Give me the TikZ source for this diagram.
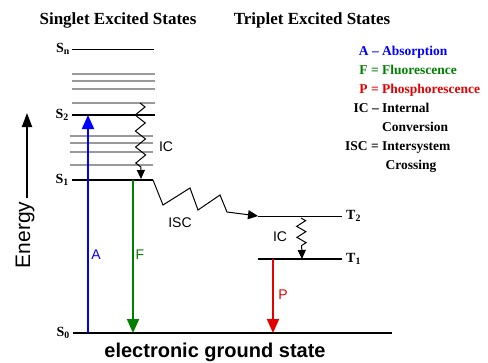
\documentclass[tikz,border=0pt]{standalone}
\usepackage{fontspec}
\setmainfont{Liberation Serif}
\setsansfont{Liberation Sans}
\usepackage{tikz}
\usetikzlibrary{arrows.meta,positioning,decorations.pathmorphing}
\definecolor{absblue}{RGB}{0,0,255}
\definecolor{flgreen}{RGB}{0,128,0}
\definecolor{phred}{RGB}{230,0,0}

\begin{document}
\begin{tikzpicture}[
    x=1pt, y=-1pt,
    level/.style={line width=2pt, black},
    thinlevel/.style={line width=1pt, black},
    vib/.style={line width=2pt, black!40},
    title/.style={font=\rmfamily\bfseries\fontsize{17}{20}\selectfont, inner sep=0pt},
    state/.style={font=\rmfamily\bfseries\fontsize{14}{16}\selectfont, inner sep=0pt},
    tag/.style={font=\sffamily\fontsize{14}{16}\selectfont, inner sep=0pt},
    radiative/.style={-{Triangle[length=14pt,width=12pt]}, line width=2pt},
    nonrad/.style={-{Triangle[length=9pt,width=8pt]}, line width=1pt, decorate,
        decoration={zigzag, amplitude=5pt, segment length=16pt, post length=12pt}}
]
\useasboundingbox (0,0) rectangle (488,362);

% Titles
\node[title] (singlet) at (118,20) {Singlet Excited States};
\node[title] (triplet) at (312,20) {Triplet Excited States};

% Singlet levels
\draw[thinlevel] (72,49) coordinate (snw) -- (154,49) coordinate (sne);
\foreach \yy in {74,81,89,103} \draw[vib] (72,\yy) -- (155,\yy);
\draw[level] (72,115) coordinate (s2w) -- (155,115) coordinate (s2e);
\foreach \yy in {136,143,152,165} \draw[vib] (70,\yy) -- (153,\yy);
\draw[level] (72,180) coordinate (s1w) -- (153,180) coordinate (s1e);
\draw[level] (73,333) coordinate (s0w) -- (392,333) coordinate (s0e);

% Triplet levels
\draw[thinlevel] (258,216) coordinate (t2w) -- (342,216) coordinate (t2e);
\draw[level] (258,259) coordinate (t1w) -- (342,259) coordinate (t1e);

% State labels
\node[state, left=2pt of snw] (snlab) {S\textsubscript{n}};
\node[state, left=3pt of s2w] (s2lab) {S\textsubscript{2}};
\node[state, left=3pt of s1w] (s1lab) {S\textsubscript{1}};
\node[state, left=3pt of s0w] (s0lab) {S\textsubscript{0}};
\node[state, right=4pt of t2e] (t2lab) {T\textsubscript{2}};
\node[state, right=4pt of t1e] (t1lab) {T\textsubscript{1}};

% Transitions
\coordinate (absfoot) at (88,333);
\coordinate (abstop) at (88,115);
\coordinate (flstart) at (133,180);
\coordinate (flend) at (133,333);
\coordinate (phstart) at (273,259);
\coordinate (phend) at (273,333);
\coordinate (icstart) at (140,103);
\coordinate (icend) at (141,179);
\coordinate (tcstart) at (301,218);
\coordinate (tcend) at (302,259);

\draw[radiative, absblue] (absfoot) -- (abstop);
\draw[radiative, flgreen] (flstart) -- (flend);
\draw[radiative, phred] (phstart) -- (phend);
\draw[nonrad] (icstart) -- (icend);
\draw[nonrad, decoration={segment length=11pt, amplitude=4.5pt, post length=10pt}] (tcstart) -- (tcend);
\draw[-{Triangle[length=10pt,width=9pt]}, line width=1pt]
    (s1e) -- (163,205) -- (190,188) -- (198,210) -- (220,195) -- (227,212) -- (t2w);

\node[tag, text=absblue] (alab) at (96,255) {A};
\node[tag, text=flgreen] (flab) at (140,255) {F};
\node[tag, text=phred] (plab) at (283,295) {P};
\node[tag] (iclab) at (166,147) {IC};
\node[tag] (isclab) at (180,223) {ISC};
\node[tag] (tclab) at (280,237) {IC};

% Energy axis
\node[font=\sffamily\fontsize{21}{24}\selectfont, rotate=90, inner sep=0pt] (energy) at (25,235) {Energy};
\coordinate (axtop) at (27,113);
\draw[-{Triangle[length=14pt,width=10pt]}, line width=2pt] (energy.east) ++(2,-4) coordinate (axfoot) -- (axtop);

\node[font=\sffamily\bfseries\fontsize{20}{24}\selectfont, inner sep=0pt] (ground) at (215,352) {electronic ground state};

% Legend
\node[anchor=north west, inner sep=0pt, font=\rmfamily\bfseries\fontsize{13.5}{19}\selectfont] (legend) at (345,42) {%
    \begin{tabular}{@{}r@{ }l@{}}
    \color{absblue}A -- & \color{absblue}Absorption\\
    \color{flgreen}F = & \color{flgreen}Fluorescence\\
    \color{phred}P = & \color{phred}Phosphorescence\\
    IC -- & Internal\\
          & Conversion\\
    ISC = & Intersystem\\
          & \ Crossing
    \end{tabular}};

\end{tikzpicture}
\end{document}
